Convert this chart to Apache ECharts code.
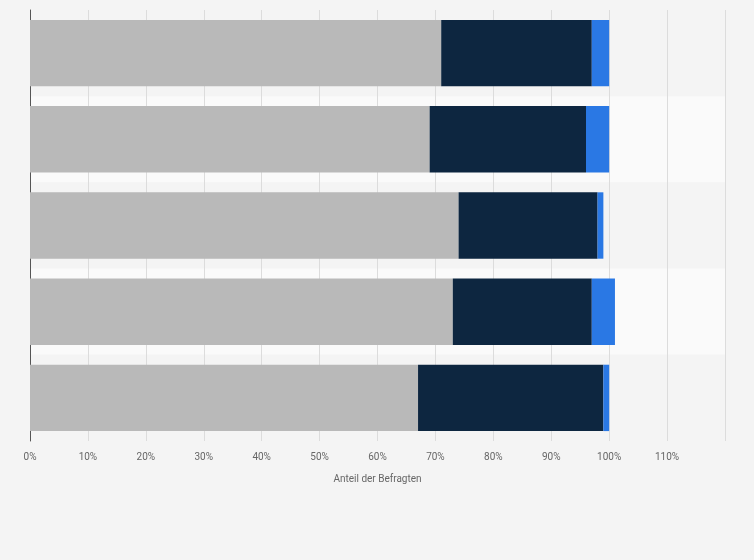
<!DOCTYPE html>
<html><head><meta charset="utf-8">
<script src="https://cdn.jsdelivr.net/npm/echarts@6/dist/echarts.min.js"></script>
<style>html,body{margin:0;background:#f4f4f4}#c{width:754px;height:560px}</style>
</head><body><div id="c"></div>
<script>
const categories = ['A','B','C','D','E'];
const gray = [71,69,74,73,67];
const navy = [26,27,24,24,32];
const blue = [3,4,1,4,1];
const chart = echarts.init(document.getElementById('c'));
const s = (name,data,color)=>({name,type:'bar',stack:'t',data,itemStyle:{color},barCategoryGap:'23%',emphasis:{disabled:true}});
chart.setOption({
  backgroundColor:'#f4f4f4',
  animation:false,
  grid:{left:30,right:29,top:10,bottom:119},
  xAxis:{type:'value',min:0,max:120,interval:10,
    axisLabel:{formatter:v=>v>=120?'':v+'%',color:'#666',fontSize:10,fontFamily:'Roboto',margin:11},
    axisTick:{show:false},axisLine:{show:false},
    splitLine:{lineStyle:{color:'#dcdcdc'}},
    name:'Anteil der Befragten',nameLocation:'middle',nameGap:33,
    nameTextStyle:{color:'#666',fontSize:10,fontFamily:'Roboto'}},
  yAxis:{type:'category',data:categories,inverse:true,
    axisLabel:{show:false},axisTick:{show:false},
    axisLine:{lineStyle:{color:'#555'}},
    splitArea:{show:true,areaStyle:{color:['#f4f4f4','#fafafa']}}},
  series:[s('a',gray,'#b9b9b9'),s('b',navy,'#0d2640'),s('c',blue,'#2a78e4')]
});
</script></body></html>
